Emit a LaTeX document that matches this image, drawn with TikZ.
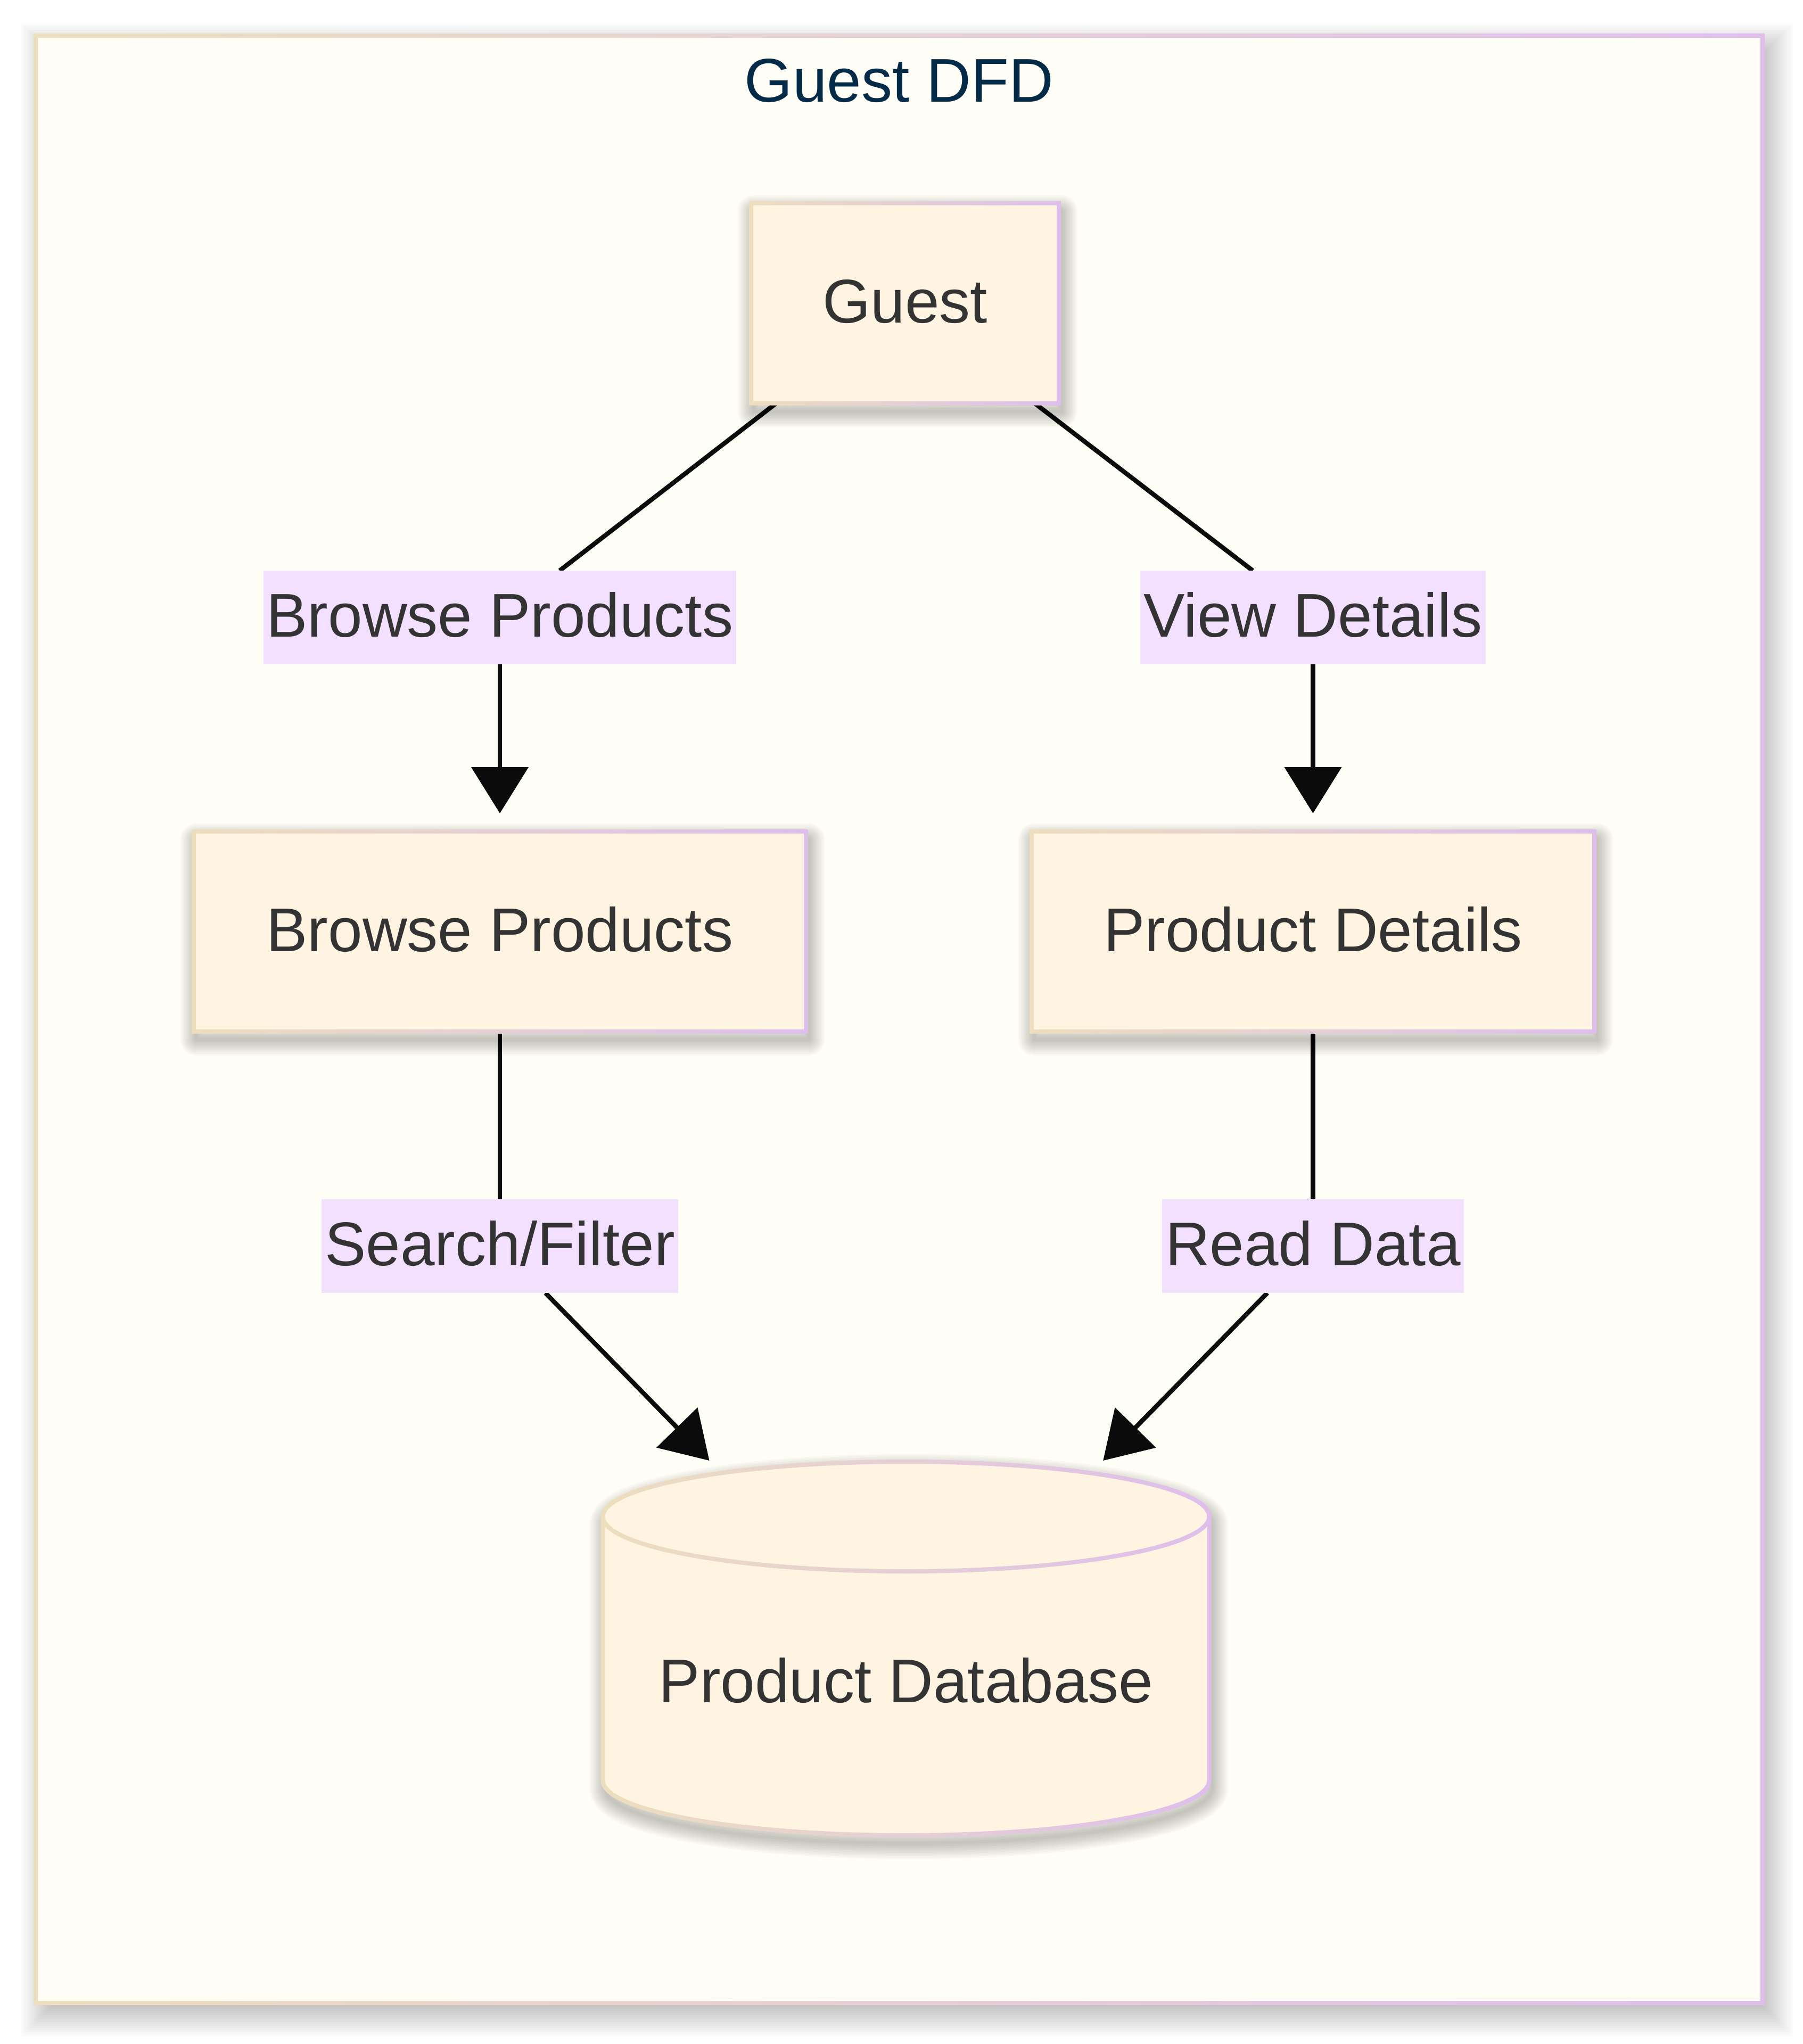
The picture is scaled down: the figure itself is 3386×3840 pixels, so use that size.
\documentclass[tikz,border=0pt]{standalone}
\usepackage{fontspec}
\setmainfont{Liberation Sans}
\usetikzlibrary{arrows.meta,calc}
\definecolor{tanB}{RGB}{237,222,190}
\definecolor{lavB}{RGB}{223,190,236}
\definecolor{frameC}{RGB}{255,254,246}
\definecolor{nodeC}{RGB}{255,244,226}
\definecolor{lblC}{RGB}{243,224,255}
\definecolor{txtC}{RGB}{51,51,51}
\definecolor{titleC}{RGB}{3,43,72}
\definecolor{edgeC}{RGB}{11,11,11}
\pgfdeclarelayer{bg}\pgfdeclarelayer{edges}\pgfdeclarelayer{shad}
\pgfsetlayers{bg,edges,shad,main}
\newcommand\dfdfont{\fontsize{116pt}{139pt}\selectfont}
\newcommand\gradbox[1]{%
  \shade[left color=tanB,right color=lavB,even odd rule]
    ($(#1.south west)+(-4,-4)$) rectangle ($(#1.north east)+(4,4)$)
    ($(#1.south west)+(4,4)$) rectangle ($(#1.north east)+(-4,-4)$);}
\newcommand\boxshadow[1]{%
  \begin{pgfonlayer}{shad}
  \foreach \s in {3,6,...,30}{%
    \pgfmathsetmacro\lw{2*\s}%
    \draw[black,opacity=0.025,line width=\lw pt,line join=round]
      ($(#1.south west)+(5,-15)$) rectangle ($(#1.north east)+(5,-15)$);}
  \end{pgfonlayer}}
\begin{document}
\begin{tikzpicture}[x=1pt,y=1pt,
  box/.style={rectangle,fill=nodeC,draw=none,inner sep=0pt,outer sep=0pt,minimum height=376pt,
    font=\dfdfont,text=txtC,text height=83pt,text depth=9pt},
  lbl/.style={rectangle,fill=lblC,inner xsep=6pt,inner ysep=41.5pt,outer sep=0pt,
    font=\dfdfont,text=txtC,text height=83pt,text depth=10pt},
  dbnode/.style={rectangle,draw=none,inner sep=0pt,outer sep=0pt,minimum width=1139pt,minimum height=774pt,
    font=\dfdfont,text=txtC,text height=135pt,text depth=0pt},
  titlenode/.style={font=\dfdfont,text=titleC,inner sep=0pt,text height=83pt,text depth=0pt},
  flow/.style={draw=edgeC,line width=8.5pt},
  arrowed/.style={-{Triangle[length=87pt,width=106pt]}}]
\useasboundingbox (0,0) rectangle (3386,-3840);
\begin{pgfonlayer}{bg}
  \fill[white] (0,0) rectangle (3386,-3840);
  \foreach \s in {0,4,...,60}{
    \fill[black,opacity=0.015] (100-\s,-104+\s) rectangle (3308+\s,-3766-\s);}
  \fill[frameC] (67,-67) rectangle (3311,-3763);
  \shade[left color=tanB,right color=lavB,even odd rule]
    (63,-63) rectangle (3315,-3767) (71,-71) rectangle (3307,-3759);
\end{pgfonlayer}
\node[titlenode] (title) at (1689,-150) {Guest DFD};
% process nodes
\node[box,minimum width=578pt] (guest) at (1700,-569.5) {Guest};
\node[box,minimum width=1150pt] (browse) at (939,-1750) {Browse Products};
\node[box,minimum width=1057pt] (details) at (2466.5,-1750) {Product Details};
\gradbox{guest}
\gradbox{browse}
\gradbox{details}
\boxshadow{guest}
\boxshadow{browse}
\boxshadow{details}
% data store (cylinder)
\begin{pgfonlayer}{shad}
  \begin{scope}[shift={(5,-15)}]
  \foreach \s in {3,6,...,30}{%
    \pgfmathsetmacro\lw{2*\s}%
    \draw[black,opacity=0.025,line width=\lw pt,line join=round] (1132.5,-2849) -- (1132.5,-3345)
      arc[start angle=180,end angle=360,x radius=569.5,y radius=103] -- (2271.5,-2849)
      arc[start angle=0,end angle=180,x radius=569.5,y radius=103] -- cycle;}
  \end{scope}
\end{pgfonlayer}
\fill[nodeC] (1132.5,-2849) -- (1132.5,-3345)
  arc[start angle=180,end angle=360,x radius=569.5,y radius=103] -- (2271.5,-2849)
  arc[start angle=0,end angle=180,x radius=569.5,y radius=103] -- cycle;
\foreach \k in {0,...,47}{
  \pgfmathsetmacro\gp{\k*2.12766}
  \pgfmathsetmacro\xa{1125+\k*24.0625}
  \pgfmathsetmacro\xb{1127+(\k+1)*24.0625}
  \begin{scope}
    \clip (\xa,-2690) rectangle (\xb,-3500);
    \draw[line width=8pt,draw=lavB!\gp!tanB,line join=round] (1132.5,-2849) -- (1132.5,-3345)
      arc[start angle=180,end angle=360,x radius=569.5,y radius=103] -- (2271.5,-2849)
      arc[start angle=0,end angle=180,x radius=569.5,y radius=103] -- cycle;
    \draw[line width=8pt,draw=lavB!\gp!tanB] (1132.5,-2849)
      arc[start angle=180,end angle=360,x radius=569.5,y radius=103];
  \end{scope}}
\node[dbnode] (db) at (1702,-3131) {Product Database};
% edge labels
\node[lbl] (lblB) at (939,-1160) {Browse Products};
\node[lbl] (lblV) at (2466.5,-1160) {View Details};
\node[lbl] (lblS) at (939,-2341) {Search/Filter};
\node[lbl] (lblR) at (2466.5,-2341) {Read Data};
% connectors
\begin{pgfonlayer}{edges}
  \draw[flow] (guest) -- (lblB);
  \draw[flow,arrowed,shorten >=34pt] (lblB) -- (browse);
  \draw[flow] (guest) -- (lblV);
  \draw[flow,arrowed,shorten >=34pt] (lblV) -- (details);
  \draw[flow] (browse) -- (lblS);
  \draw[flow,arrowed] (lblS) -- (db);
  \draw[flow] (details) -- (lblR);
  \draw[flow,arrowed] (lblR) -- (db);
\end{pgfonlayer}
\end{tikzpicture}
\end{document}
